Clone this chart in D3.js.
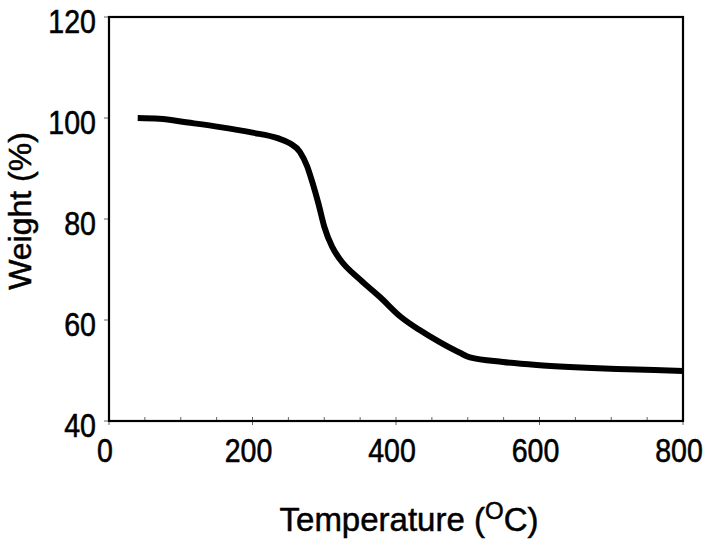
<!DOCTYPE html>
<html>
<head>
<meta charset="utf-8">
<script src="https://cdn.jsdelivr.net/npm/d3@7"></script>
<style>
  html, body { margin: 0; padding: 0; background: #fff; }
  svg { display: block; }
</style>
</head>
<body>
<script>
// Data (TGA curve)
const temperature = [40, 70, 110, 155, 200, 235, 252, 266, 276, 284, 292, 300, 311, 322, 350, 378, 406, 433, 461, 489, 503, 549, 596, 642, 708, 760, 800];
const weight      = [100, 99.85, 99.1, 98.2, 97.1, 96.0, 95.0, 93.3, 90.5, 87.0, 83.0, 78.5, 74.5, 72.0, 68.0, 64.5, 60.7, 58.0, 55.6, 53.5, 52.6, 51.7, 51.1, 50.7, 50.3, 50.1, 49.9];
const xTicks = [0, 200, 400, 600, 800];
const xMinorTicks = [50, 100, 150, 250, 300, 350, 450, 500, 550, 650, 700, 750];
const yTicks = [40, 60, 80, 100, 120];
const xLabel = "Temperature (";
const yLabel = "Weight (%)";

const W = 710, H = 547;
const m = { left: 109, right: 27, top: 17, bottom: 126 };

const svg = d3.select("body").append("svg").attr("width", W).attr("height", H);

const x = d3.scaleLinear().domain([0, 800]).range([m.left, W - m.right]);
const y = d3.scaleLinear().domain([40, 120]).range([H - m.bottom, m.top]);

const tickFont = "'Liberation Sans', Arial, sans-serif";

// minor ticks (inside, along x axis)
svg.append("g").selectAll("line").data(xMinorTicks.concat(xTicks)).join("line")
  .attr("x1", d => x(d)).attr("x2", d => x(d))
  .attr("y1", y(40)).attr("y2", y(40) - 4)
  .attr("stroke", "#666").attr("stroke-width", 1);

// y ticks (outside)
svg.append("g").selectAll("line").data(yTicks).join("line")
  .attr("x1", x(0) - 5).attr("x2", x(0))
  .attr("y1", d => y(d)).attr("y2", d => y(d))
  .attr("stroke", "#666").attr("stroke-width", 1);

// x major ticks outside (small)
svg.append("g").selectAll("line").data(xTicks).join("line")
  .attr("x1", d => x(d)).attr("x2", d => x(d))
  .attr("y1", y(40)).attr("y2", y(40) + 4)
  .attr("stroke", "#666").attr("stroke-width", 1);

// frame
svg.append("rect")
  .attr("x", x(0)).attr("y", y(120))
  .attr("width", x(800) - x(0)).attr("height", y(40) - y(120))
  .attr("fill", "none").attr("stroke", "#000").attr("stroke-width", 2.2);

// tick labels (condensed look)
svg.append("g").selectAll("text").data(xTicks).join("text")
  .attr("transform", d => `translate(${x(d) - 4},${y(40) + 41}) scale(0.84,1)`)
  .attr("text-anchor", "middle")
  .attr("font-family", tickFont).attr("font-size", 34)
  .attr("fill", "#000").attr("stroke", "#000").attr("stroke-width", 0.6)
  .text(d => d);

svg.append("g").selectAll("text").data(yTicks).join("text")
  .attr("transform", d => `translate(${x(0) - 13},${y(d) + 16}) scale(0.84,1)`)
  .attr("text-anchor", "end")
  .attr("font-family", tickFont).attr("font-size", 34)
  .attr("fill", "#000").attr("stroke", "#000").attr("stroke-width", 0.6)
  .text(d => d);

// axis titles
const xt = svg.append("text")
  .attr("x", 409).attr("y", 531)
  .attr("text-anchor", "middle")
  .attr("font-family", "'Liberation Sans', Arial, sans-serif")
  .attr("font-size", 33).attr("fill", "#000")
  .attr("stroke", "#000").attr("stroke-width", 0.5);
xt.append("tspan").text(xLabel);
xt.append("tspan").attr("dy", -12).attr("font-size", 24).text("O");
xt.append("tspan").attr("dy", 12).text("C)");

svg.append("text")
  .attr("transform", "translate(31,211) rotate(-90)")
  .attr("text-anchor", "middle")
  .attr("font-family", "'Liberation Sans', Arial, sans-serif")
  .attr("font-size", 32).attr("fill", "#000")
  .attr("stroke", "#000").attr("stroke-width", 0.5)
  .text(yLabel);

// curve
const pts = temperature.map((t, i) => [t, weight[i]]);
svg.append("path")
  .datum(pts)
  .attr("fill", "none").attr("stroke", "#000")
  .attr("stroke-width", 6)
  .attr("d", d3.line().x(d => x(d[0])).y(d => y(d[1])).curve(d3.curveMonotoneX));
</script>
</body>
</html>
